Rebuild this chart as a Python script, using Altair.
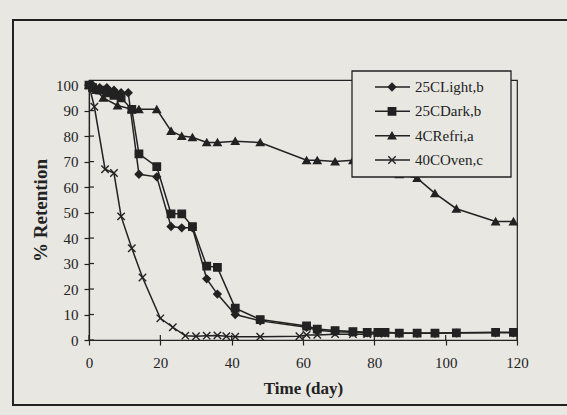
import altair as alt
import pandas as pd

series_names = ["25CLight,b", "25CDark,b", "4CRefri,a", "40COven,c"]

days_light = [0, 1, 3, 5, 7, 9, 11, 14, 19, 23, 26, 29, 33, 36, 41, 48, 61, 64, 69, 74, 78, 81, 83, 87, 92, 97, 103, 114, 119]
vals_light = [100, 100, 99, 99, 98, 97, 97, 65, 64, 44.5, 44, 44, 24, 18, 10, 7.5, 5, 3.8, 3.2, 3, 2.8, 2.8, 2.8, 2.6, 2.6, 2.6, 2.7, 2.8, 2.8]

days_dark = [0, 1, 3, 5, 7, 9, 12, 14, 19, 23, 26, 29, 33, 36, 41, 48, 61, 64, 69, 74, 78, 81, 83, 87, 92, 97, 103, 114, 119]
vals_dark = [100, 99, 98, 97, 96, 95, 90.5, 73, 68, 49.5, 49.5, 44.5, 29, 28.5, 12.5, 8, 5.5, 4.3, 3.7, 3.3, 3, 3, 3, 2.7, 2.7, 2.7, 2.8, 3, 3]

days_refri = [0, 2, 4, 8, 12, 14, 19, 23, 26, 29, 33, 36, 41, 48, 61, 64, 69, 74, 78, 81, 87, 92, 97, 103, 114, 119]
vals_refri = [100, 98, 95, 92, 90.5, 90.5, 90.5, 82, 80, 79.5, 77.5, 77.5, 78, 77.5, 70.5, 70.5, 70, 70.5, 69, 68, 65, 63.5, 57.5, 51.5, 46.5, 46.5]

days_oven = [0, 1.5, 4.5, 7, 9, 12, 15, 20, 23.5, 27, 30, 33, 36, 38.5, 41, 48, 59, 61, 64, 69, 74, 78, 81, 83]
vals_oven = [100, 91.5, 67, 65.5, 48.5, 36, 24.5, 8.5, 5, 1.7, 1.5, 1.7, 1.8, 1.5, 1.3, 1.3, 1.5, 2, 2, 2.3, 2.3, 2.3, 2.5, 2.5]

x_ticks = [0, 20, 40, 60, 80, 100, 120]
y_ticks = [0, 10, 20, 30, 40, 50, 60, 70, 80, 90, 100]

rows = []
for name, ds, vs in zip(series_names,
                        [days_light, days_dark, days_refri, days_oven],
                        [vals_light, vals_dark, vals_refri, vals_oven]):
    for d, v in zip(ds, vs):
        rows.append({"series": name, "day": d, "value": v})
df = pd.DataFrame(rows)
legend_df = pd.DataFrame({"series": series_names})
one = pd.DataFrame({"a": [0]})

INK = "#222222"
BG = "#e8e7e2"
SERIF = "Liberation Serif"
X_PATH = "M-1,-1L1,1M-1,1L1,-1"
shape_scale = alt.Scale(domain=series_names, range=["diamond", "square", "triangle-up", X_PATH])

x_enc = alt.X("day:Q", scale=alt.Scale(domain=[0, 120], nice=False),
              axis=alt.Axis(values=x_ticks, title="Time (day)", labelFlush=False,
                            tickSize=5, labelPadding=10, titlePadding=10,
                            titleFontSize=17, titleFontWeight="bold"))
y_enc = alt.Y("value:Q", scale=alt.Scale(domain=[0, 102], nice=False),
              axis=alt.Axis(values=y_ticks, title="% Retention", labelFlush=False,
                            tickSize=5, labelPadding=6, titlePadding=5,
                            titleFontSize=19, titleFontWeight="bold"))

frame = alt.Chart(one).mark_rect(fillOpacity=0, stroke=INK, strokeWidth=2).encode(
    x=alt.value(-76), x2=alt.value(520), y=alt.value(-60), y2=alt.value(325))

y_inner = alt.Chart(pd.DataFrame({"value": y_ticks})).mark_rule(color=INK, strokeWidth=1.2).encode(
    x=alt.value(0), x2=alt.value(5), y=y_enc)
x_inner = alt.Chart(pd.DataFrame({"day": x_ticks})).mark_rule(color=INK, strokeWidth=1.2).encode(
    x=x_enc, y=alt.value(255), y2=alt.value(260))

lines = alt.Chart(df).mark_line(color=INK, strokeWidth=1.5).encode(
    x=x_enc, y=y_enc, detail="series:N", order="day:Q")
points = alt.Chart(df).mark_point(filled=True, fill=INK, stroke=INK, strokeWidth=1.4,
                                  size=55, opacity=1).encode(
    x=x_enc, y=y_enc,
    shape=alt.Shape("series:N", scale=shape_scale, legend=None))

data_layer = alt.layer(y_inner, x_inner, lines, points)

ly = alt.Y("series:N", scale=alt.Scale(type="point", domain=series_names, range=[7, 80], padding=0), axis=None)
leg_box = alt.Chart(one).mark_rect(fill=BG, stroke=INK, strokeWidth=1.3).encode(
    x=alt.value(263), x2=alt.value(422), y=alt.value(-9), y2=alt.value(97))
leg_rules = alt.Chart(legend_df).mark_rule(color=INK, strokeWidth=1.5).encode(
    x=alt.value(286), x2=alt.value(321), y=ly)
leg_pts = alt.Chart(legend_df).mark_point(filled=True, fill=INK, stroke=INK, strokeWidth=1.4,
                                          size=55, opacity=1).encode(
    x=alt.value(303), y=ly, shape=alt.Shape("series:N", scale=shape_scale, legend=None))
leg_text = alt.Chart(legend_df).mark_text(align="left", baseline="middle", font=SERIF,
                                          fontSize=15, color=INK).encode(
    x=alt.value(326), y=ly, text="series:N")
legend_layer = alt.layer(leg_box, leg_rules, leg_pts, leg_text)

chart = alt.layer(frame, data_layer, legend_layer).resolve_scale(
    y="independent"
).properties(
    width=428, height=260,
    padding={"left": 89, "top": 80, "right": 50, "bottom": 75},
    autosize=alt.AutoSizeParams(type="none"),
    background=BG,
).configure_view(stroke=INK, strokeWidth=1.2).configure_axis(
    grid=False, domainColor=INK, tickColor=INK, labelColor=INK, titleColor=INK,
    labelFont=SERIF, titleFont=SERIF, labelFontSize=15, domainWidth=1.2, tickWidth=1.2
)

chart.save("out.html", embed_options={"renderer": "svg", "actions": False})
